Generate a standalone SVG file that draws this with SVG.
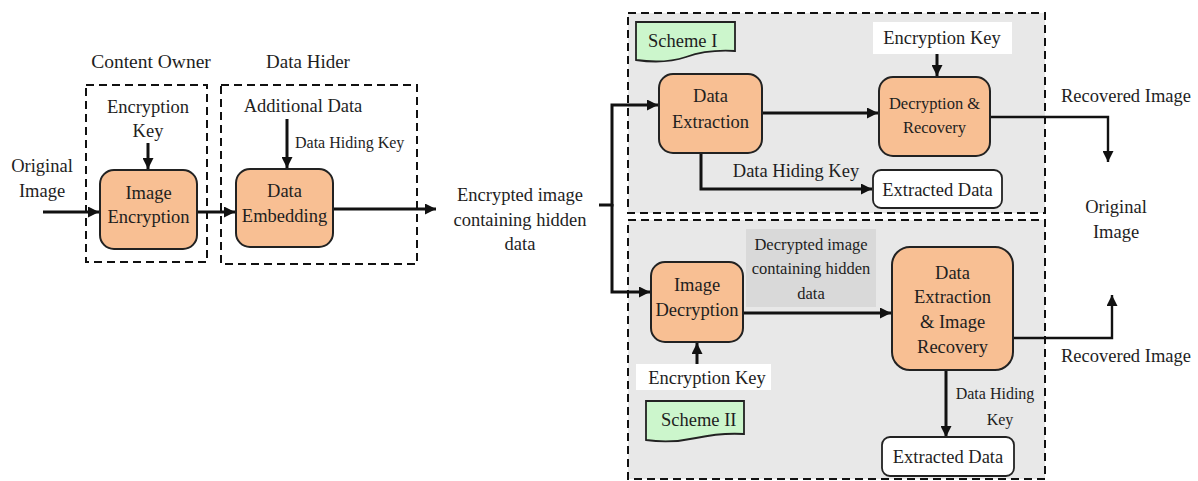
<svg xmlns="http://www.w3.org/2000/svg" width="1198" height="481" viewBox="0 0 1198 481">
  <defs>
    <marker id="arrow" viewBox="0 0 10 10" refX="10" refY="5" markerWidth="12" markerHeight="11" markerUnits="userSpaceOnUse" orient="auto">
      <path d="M0,0 L10,5 L0,10 z" fill="#111"/>
    </marker>
    <style>
      text { font-family: "Liberation Serif", "Times New Roman", serif; fill: #1e1e1e; }
      .t { font-size: 18.5px; }
      .c { text-anchor: middle; }
      .s { font-size: 16px; }
      .dash { fill: none; stroke: #111; stroke-width: 2; stroke-dasharray: 8 5; }
      .panel { fill: #e8e8e8; stroke: #111; stroke-width: 2; stroke-dasharray: 8 5; }
      .proc { fill: #f8bf93; stroke: #222; stroke-width: 2; }
      .out { fill: #ffffff; stroke: #222; stroke-width: 1.8; }
      .tag { fill: #ccf6cc; stroke: #222; stroke-width: 1.8; }
      .conn { fill: none; stroke: #111; stroke-width: 3; }
      .thin { fill: none; stroke: #111; stroke-width: 2.4; }
    </style>
  </defs>

  <rect width="1198" height="481" fill="#ffffff"/>

  <!-- Scheme panels -->
  <rect id="panel-scheme1" class="panel" x="628" y="13" width="417" height="200"/>
  <rect id="panel-scheme2" class="panel" x="628" y="220" width="417" height="259"/>

  <!-- Owner / hider frames -->
  <g id="content-owner">
    <text class="c" x="151" y="68" font-size="19.5">Content Owner</text>
    <rect class="dash" x="86" y="85" width="121" height="177"/>
  </g>
  <g id="data-hider">
    <text class="c" x="308" y="68" font-size="19">Data Hider</text>
    <rect class="dash" x="221" y="85" width="196" height="179"/>
  </g>

  <!-- Connectors -->
  <g id="connectors">
    <path class="conn" d="M43,212 H99" marker-end="url(#arrow)"/>
    <path class="conn" d="M197,212 H235" marker-end="url(#arrow)"/>
    <path class="conn" d="M333,209 H436" marker-end="url(#arrow)"/>
    <path class="conn" d="M148,143 V169" marker-end="url(#arrow)"/>
    <path class="conn" d="M287,119 V168" marker-end="url(#arrow)"/>
    <path class="conn" d="M599,205 H612 V105 H658" marker-end="url(#arrow)"/>
    <path class="conn" d="M612,204 V292 H650" marker-end="url(#arrow)"/>
    <path class="conn" d="M762,113 H878" marker-end="url(#arrow)"/>
    <path class="conn" d="M937,54 V76" marker-end="url(#arrow)"/>
    <path class="thin" d="M990,117 H1108 V162" marker-end="url(#arrow)"/>
    <path class="conn" d="M701,153 V189 H872" marker-end="url(#arrow)"/>
    <path class="conn" d="M743,313 H891" marker-end="url(#arrow)"/>
    <path class="conn" d="M697,364 V343" marker-end="url(#arrow)"/>
    <path class="thin" d="M1013,338 H1112 V295" marker-end="url(#arrow)"/>
    <path class="conn" d="M946,370 V437" marker-end="url(#arrow)"/>
  </g>

  <!-- Left side labels -->
  <g id="original-image-in">
    <text class="t c" x="42" y="172">Original</text>
    <text class="t c" x="42" y="197">Image</text>
  </g>
  <g id="encryption-key-1">
    <text class="t c" x="148" y="113">Encryption</text>
    <text class="t c" x="148" y="137">Key</text>
  </g>
  <g id="image-encryption">
    <rect class="proc" x="100" y="170" width="97" height="79" rx="14"/>
    <text class="t c" x="148.5" y="199">Image</text>
    <text class="t c" x="148.5" y="223">Encryption</text>
  </g>
  <g id="additional-data">
    <text class="t c" x="303" y="112">Additional Data</text>
    <text class="s" x="295" y="148">Data Hiding Key</text>
  </g>
  <g id="data-embedding">
    <rect class="proc" x="236" y="169" width="97" height="78" rx="14"/>
    <text class="t c" x="284.5" y="197">Data</text>
    <text class="t c" x="284.5" y="222">Embedding</text>
  </g>
  <g id="encrypted-image">
    <text class="t c" x="520" y="201">Encrypted image</text>
    <text class="t c" x="520" y="226">containing hidden</text>
    <text class="t c" x="520" y="250">data</text>
  </g>

  <!-- Scheme I -->
  <g id="scheme1-tag">
    <path class="tag" d="M636,22 H735 V51 C718,50 700,52 686,57 C668,63 650,62 636,60 Z"/>
    <text class="t" x="648" y="47">Scheme I</text>
  </g>
  <g id="data-extraction">
    <rect class="proc" x="659" y="74" width="103" height="79" rx="14"/>
    <text class="t c" x="710.5" y="102">Data</text>
    <text class="t c" x="710.5" y="128">Extraction</text>
  </g>
  <g id="encryption-key-2">
    <rect x="873" y="22" width="139" height="32" fill="#ffffff"/>
    <text class="t c" x="942" y="44">Encryption Key</text>
  </g>
  <g id="decryption-recovery">
    <rect class="proc" x="879" y="77" width="111" height="79" rx="14"/>
    <text class="c" x="934.5" y="109" font-size="16.5">Decryption &amp;</text>
    <text class="c" x="934.5" y="133" font-size="16.5">Recovery</text>
  </g>
  <g id="data-hiding-key-1">
    <text class="t c" x="796" y="177">Data Hiding Key</text>
  </g>
  <g id="extracted-data-1">
    <rect class="out" x="873" y="170" width="129" height="38" rx="8"/>
    <text class="t c" x="937.5" y="196">Extracted Data</text>
  </g>

  <!-- Outputs on the right -->
  <g id="recovered-image-1">
    <text class="t c" x="1126" y="102">Recovered Image</text>
  </g>
  <g id="original-image-out">
    <text class="t c" x="1116" y="213">Original</text>
    <text class="t c" x="1116" y="238">Image</text>
  </g>
  <g id="recovered-image-2">
    <text class="t c" x="1126" y="362">Recovered Image</text>
  </g>

  <!-- Scheme II -->
  <g id="image-decryption">
    <rect class="proc" x="651" y="262" width="92" height="80" rx="14"/>
    <text class="t c" x="697" y="291">Image</text>
    <text class="t c" x="697" y="316">Decryption</text>
  </g>
  <g id="decrypted-image-label">
    <rect x="746" y="229" width="130" height="78" fill="#d9d9d9"/>
    <text class="c" x="811" y="250" font-size="16.5">Decrypted image</text>
    <text class="c" x="811" y="274" font-size="16.5">containing hidden</text>
    <text class="c" x="811" y="299" font-size="16.5">data</text>
  </g>
  <g id="encryption-key-3">
    <rect x="636" y="364" width="135" height="26" fill="#ffffff"/>
    <text class="t c" x="707" y="384">Encryption Key</text>
  </g>
  <g id="scheme2-tag">
    <path class="tag" d="M646,401 H744 V434 C727,433 710,435 696,438 C678,442 660,442 646,440 Z"/>
    <text class="t" x="661" y="426">Scheme II</text>
  </g>
  <g id="data-extraction-recovery">
    <rect class="proc" x="892" y="247" width="121" height="123" rx="18"/>
    <text class="t c" x="952.5" y="279">Data</text>
    <text class="t c" x="952.5" y="303">Extraction</text>
    <text class="t c" x="952.5" y="328">&amp; Image</text>
    <text class="t c" x="952.5" y="353">Recovery</text>
  </g>
  <g id="data-hiding-key-2">
    <text class="s c" x="995" y="399">Data Hiding</text>
    <text class="s c" x="1000" y="425">Key</text>
  </g>
  <g id="extracted-data-2">
    <rect class="out" x="882" y="437" width="132" height="39" rx="8"/>
    <text class="t c" x="948" y="463">Extracted Data</text>
  </g>
</svg>
